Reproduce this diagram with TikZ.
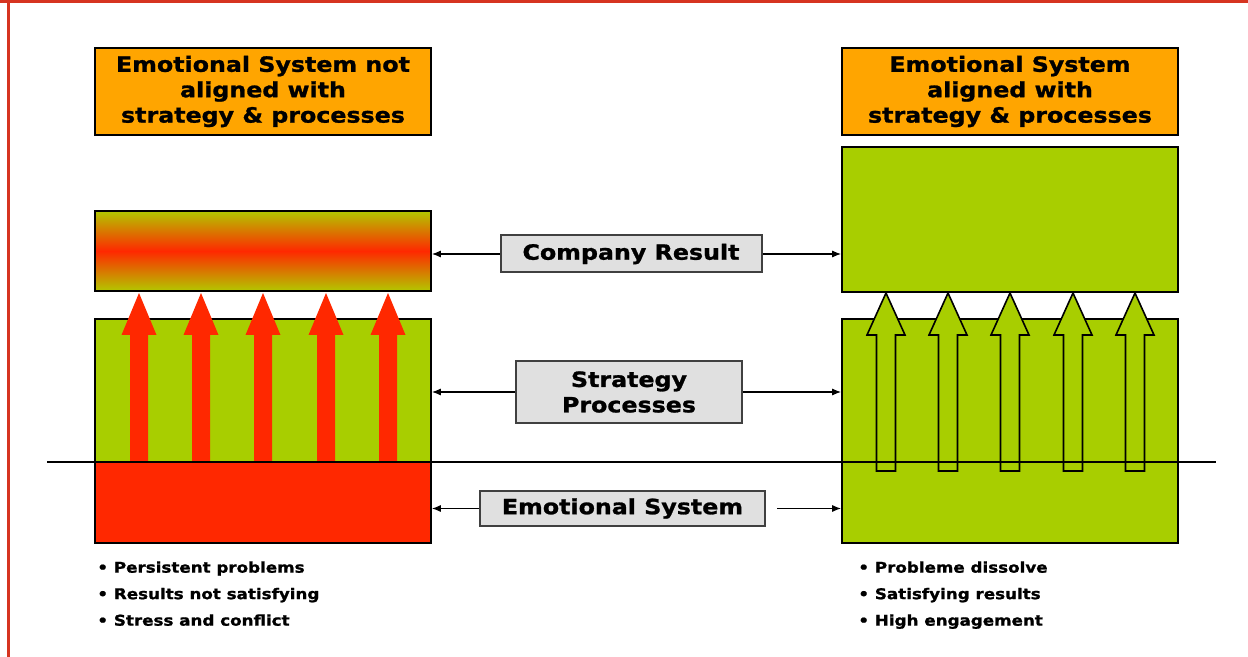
\documentclass[tikz,border=0pt]{standalone}
\usepackage{fontspec}
\usepackage{tikz}
\usetikzlibrary{arrows.meta, positioning}
\newfontfamily\heavy{DejaVu Sans}[FakeStretch=1.13, FakeBold=1.2]
\definecolor{sysgreen}{RGB}{168, 206, 0}
\definecolor{resgreen}{RGB}{178, 200, 0}
\definecolor{sysorange}{RGB}{255, 165, 0}
\definecolor{sysred}{RGB}{255, 40, 0}
\definecolor{labelgray}{RGB}{224, 224, 224}
\definecolor{framered}{RGB}{214, 52, 32}

\tikzset{
  titlebox/.style={draw, fill=sysorange, line width=0.8pt, minimum width=168pt, minimum height=43.5pt, inner sep=0pt, align=center, font=\heavy\bfseries\fontsize{10.5}{12.7}\selectfont},
  layerbox/.style={draw, line width=0.8pt, minimum width=168pt, inner sep=0pt},
  labelbox/.style={draw=black!75, fill=labelgray, line width=1pt, inner sep=0pt, align=center, font=\heavy\bfseries\fontsize{10.5}{12.7}\selectfont},
  link/.style={-{Latex[length=4.5pt,width=3.5pt]}, line width=0.6pt},
  bullets/.style={anchor=north west, inner sep=0pt, align=left, font=\heavy\bfseries\fontsize{7.4}{13.25}\selectfont}
}

\begin{document}
\begin{tikzpicture}[x=0.5pt, y=-0.5pt]
\useasboundingbox (0,0) rectangle (1248,657);
% frame
\draw[framered, line width=1.5pt] (0,1.5) -- (1248,1.5);
\draw[framered, line width=1.5pt] (8,0) -- (8,657);

% titles
\node[titlebox] (lefttitle) at (263,91.5) {Emotional System not\\aligned with\\strategy \& processes};
\node[titlebox] (righttitle) at (1010,91.5) {Emotional System\\aligned with\\strategy \& processes};

% left column
\node[layerbox, minimum height=40pt, top color=resgreen, bottom color=resgreen, middle color=sysred] (leftres) at (263,251) {};
\node[layerbox, fill=sysgreen, minimum height=71.5pt] (leftproc) at (263,390.5) {};
\node[layerbox, fill=sysred, minimum height=40.5pt] (leftemo) at (263,502.5) {};

% right column
\node[layerbox, fill=sysgreen, minimum height=72.5pt] (rightres) at (1010,219.5) {};
\node[layerbox, fill=sysgreen, minimum height=71.5pt] (rightproc) at (1010,390.5) {};
\node[layerbox, fill=sysgreen, minimum height=40.5pt] (rightemo) at (1010,502.5) {};

% arrows through the layers
\foreach \ax in {139,201,263,326,388}
  \fill[sysred] (\ax-9,462) -- (\ax-9,335) -- (\ax-17.5,335) -- (\ax,293) -- (\ax+17.5,335) -- (\ax+9,335) -- (\ax+9,462) -- cycle;
\foreach \ax in {886,948,1010,1073,1135}
  \filldraw[fill=sysgreen, draw=black, line width=0.8pt] (\ax-9.5,471) -- (\ax-9.5,335) -- (\ax-19,335) -- (\ax,293) -- (\ax+19,335) -- (\ax+9.5,335) -- (\ax+9.5,471) -- cycle;

% surface line
\coordinate (lineL) at (47,462);
\coordinate (lineR) at (1216,462);
\draw[line width=1.2pt] (lineL) -- (lineR);

% labels
\node[labelbox, minimum width=130.5pt, minimum height=18.5pt] (company) at (631,254) {Company Result};
\node[labelbox, minimum width=113pt, minimum height=31pt] (strategy) at (629,392) {Strategy\\Processes};
\node[labelbox, minimum width=142.5pt, minimum height=17.7pt] (emotional) at (622.5,508.5) {Emotional System};

\draw[link] (company.west) -- (leftres.east |- company.west);
\draw[link] (company.east) -- (rightres.west |- company.east);
\draw[link] (strategy.west) -- (leftproc.east |- strategy.west);
\draw[link] (strategy.east) -- (rightproc.west |- strategy.east);
\draw[link] (emotional.west) -- (leftemo.east |- emotional.west);
\draw[link, shorten <=5.5pt] (emotional.east) -- (rightemo.west |- emotional.east);

% bullet lists
\node[bullets] (leftlist) at (97,561) {• Persistent problems\\• Results not satisfying\\• Stress and conflict};
\node[bullets] (rightlist) at (858,561) {• Probleme dissolve\\• Satisfying results\\• High engagement};
\end{tikzpicture}
\end{document}
